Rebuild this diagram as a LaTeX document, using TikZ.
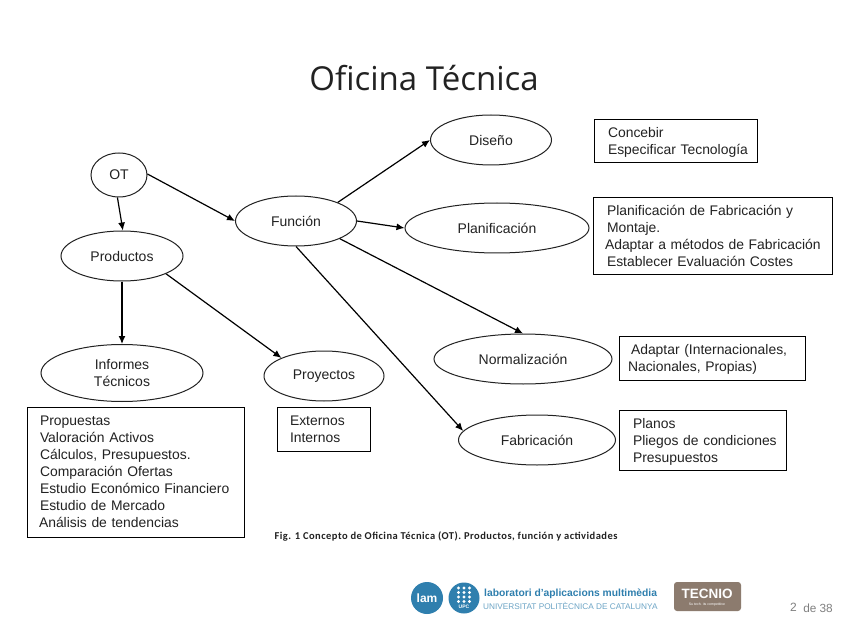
\documentclass[tikz,border=0pt]{standalone}
\usepackage{fontspec}
\setmainfont{Liberation Sans}
\newfontfamily\titlefont{Open Sans}
\newfontfamily\capfont[LetterSpace=4.5]{Carlito}
\usetikzlibrary{shapes.geometric,arrows.meta}
\definecolor{ink}{HTML}{222222}
\definecolor{lamblue}{HTML}{2F7FAE}
\definecolor{tecbrown}{HTML}{8C7B6E}
\tikzset{
  x=1pt,y=-1pt,
  ell/.style={draw=ink,line width=1pt,ellipse,inner sep=0pt,text=ink,font=\fontsize{14}{17}\selectfont,align=center},
  box/.style={draw=black,line width=0.9pt,rectangle,inner sep=0pt,text=ink,font=\fontsize{13.9}{17}\selectfont,align=left},
  arr/.style={draw=black,line width=1.2pt,-{Latex[length=8pt,width=7pt]}}
}
\newcommand{\ellnode}[6]{\node[ell,minimum width=#4pt,minimum height=#5pt] (#1) at (#2,#3) {#6};}
\newcommand{\ind}[1]{\hspace*{#1pt}}
\newcommand{\boxnode}[6]{\pgfmathsetlengthmacro{\tw}{#4-2}\node[box,minimum width=#4pt,minimum height=#5pt,text width=\tw] (#1) at (#2,#3) {\hyphenpenalty=10000 #6};}
\begin{document}
\begin{tikzpicture}
\useasboundingbox (0,0) rectangle (848,636);
\fill[white] (0,0) rectangle (848,636);
\node[font=\titlefont\fontsize{33}{38}\selectfont,text=ink] (title) at (424,78) {Oficina Técnica};

\ellnode{ot}{119}{175}{56}{44}{OT}
\ellnode{func}{296}{221}{121}{50}{Función}
\ellnode{prod}{122}{256}{122}{50}{Productos}
\ellnode{inf}{122}{373}{162}{57}{Informes\\Técnicos}
\ellnode{proy}{324}{376}{120}{50}{Proyectos}
\ellnode{dis}{491}{140}{121}{50}{Diseño}
\ellnode{plan}{497}{228}{184}{50}{Planificación}
\ellnode{norm}{523}{359}{178}{50}{Normalización}
\ellnode{fab}{537}{440}{157}{50}{Fabricación}

\boxnode{bdis}{675.5}{140.5}{163}{43}{\rule{0pt}{14pt}\ind{13}Concebir\\\ind{13}Especificar Tecnología}
\boxnode{bplan}{712.5}{235.5}{239}{77}{\rule{0pt}{12pt}\ind{13}Planificación de Fabricación y\\\ind{13}Montaje.\\\ind{11}Adaptar a métodos de Fabricación\\\ind{13}Establecer Evaluación Costes}
\boxnode{bnorm}{712}{358}{186}{44}{\rule{0pt}{12pt}\ind{11}Adaptar (Internacionales,\\\ind{8}Nacionales, Propias)}
\boxnode{bfab}{702.5}{440}{167}{60}{\rule{0pt}{14pt}\ind{13}Planos\\\ind{13}Pliegos de condiciones\\\ind{13}Presupuestos}
\boxnode{bproy}{323.5}{429}{93}{44}{\ind{12}Externos\\\ind{12}Internos}
\boxnode{binf}{135.5}{472}{217}{130}{\ind{12}Propuestas\\\ind{12}Valoración Activos\\\ind{12}Cálculos, Presupuestos.\\\ind{12}Comparación Ofertas\\\ind{12}Estudio Económico Financiero\\\ind{12}Estudio de Mercado\\\ind{11}Análisis de tendencias}

\draw[arr] (ot.-94) -- (prod.88);
\draw[arr] (ot.2) -- (func.180);
\draw[arr] (func.24) -- (dis.180);
\draw[arr] (func.0) -- (plan.180);
\draw[arr] (func.-22) -- (norm.90);
\draw[arr] (func.-90) -- (fab.173);
\draw[arr] (prod.-90) -- (inf.90);
\draw[arr] (prod.-22) -- (proy.157);

\node[font=\capfont\bfseries\fontsize{10.5}{12}\selectfont,text=ink] (cap) at (446,536) {Fig. 1 Concepto de Oficina Técnica (OT). Productos, función y actividades};

% footer logos
\node[circle,fill=lamblue,minimum size=32pt,inner sep=0pt,text=white,font=\bfseries\fontsize{12}{12}\selectfont] (lam) at (427,598) {lam};
\node[circle,fill=lamblue,minimum size=31pt,inner sep=0pt] (upc) at (464,598) {};
\foreach \i in {0,1,2,3}\foreach \j in {0,1,2}{\fill[white] (458.5+\j*5.5,588+\i*4.5) circle (1.7);}
\node[text=white,font=\bfseries\fontsize{5}{5}\selectfont] (upct) at (464,607) {UPC};
\node[anchor=west,inner sep=0pt,text=lamblue,font=\bfseries\fontsize{10.3}{11}\selectfont] (lab1) at (484,594) {laboratori d'aplicacions multimèdia};
\node[anchor=west,inner sep=0pt,text=lamblue!70,font=\fontsize{8.25}{9}\selectfont] (lab2) at (483,606) {UNIVERSITAT POLITÈCNICA DE CATALUNYA};
\node[fill=tecbrown,rounded corners=3pt,minimum width=67pt,minimum height=29pt,inner sep=0pt] (tec) at (707.5,596.5) {};
\node[text=white,font=\bfseries\fontsize{13.5}{14}\selectfont] (tect) at (707,594) {TECNIO};
\node[text=white,font=\fontsize{3.5}{4}\selectfont] (tecs) at (707,605) {Su tech. its competitive};
\node[anchor=east,inner sep=0pt,text=gray,font=\fontsize{12}{14}\selectfont] (pg) at (797,607) {2};
\node[anchor=east,inner sep=0pt,text=gray,font=\fontsize{11.8}{14}\selectfont] (of) at (833,608) {de 38};
\end{tikzpicture}
\end{document}
